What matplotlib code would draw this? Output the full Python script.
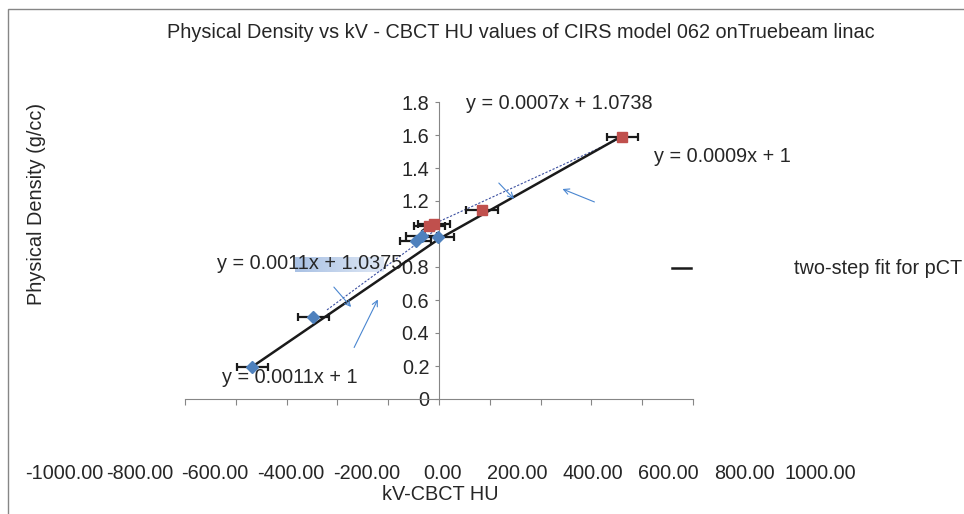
import matplotlib
matplotlib.use('Agg')
import matplotlib.pyplot as plt
import numpy as np
from matplotlib.lines import Line2D
from matplotlib.patches import Rectangle
from matplotlib.ticker import FuncFormatter

plt.rcParams['font.family'] = ['Liberation Sans', 'DejaVu Sans']

# Phantom inserts, kV-CBCT HU against physical density
blue_hu = [-735, -495, -92, -68, -3]
blue_rho = [0.196, 0.495, 0.96, 0.99, 0.98]
red_hu = [-38, -19, 170, 722]
red_rho = [1.05, 1.06, 1.145, 1.59]
hu_err = 62

# two-step fit for pCT (black polyline)
fit_hu = [-735, 0, 722]
fit_rho = [0.196, 0.97, 1.595]

# series trendlines (dotted)
blue_trend_hu = [-441, 0]
blue_trend_rho = [0.54, 1.04]
red_trend_hu = [-40, 722]
red_trend_rho = [1.047, 1.585]

ytick_vals = [0, 0.2, 0.4, 0.6, 0.8, 1.0, 1.2, 1.4, 1.6, 1.8]
xtick_vals = [-1000, -800, -600, -400, -200, 0, 200, 400, 600, 800, 1000]

W, H = 964, 514
txt = '#262626'
grey = '#868686'
arrow_c = '#4a86d0'
fs = 14.3

fig = plt.figure(figsize=(W / 100, H / 100), dpi=100)

# chart frame (runs off the right and bottom of the picture)
fig.patches.append(Rectangle((8 / W, -0.2), 2, (H - 9) / H + 0.2,
                             transform=fig.transFigure, fill=False,
                             edgecolor=grey, lw=1))

ax = fig.add_axes([185 / W, (H - 399) / H, (693 - 185) / W, (399 - 102) / H])
ax.set_xlim(-1000, 1000)
ax.set_ylim(0, 1.8)
for s in ['top', 'right']:
    ax.spines[s].set_visible(False)
ax.spines['left'].set_position(('data', 0))
ax.spines['left'].set_color(grey)
ax.spines['bottom'].set_color(grey)
ax.set_xticks(xtick_vals)
ax.tick_params(axis='x', direction='out', length=4, color=grey, labelbottom=False)
ax.set_yticks(ytick_vals)
ax.yaxis.set_major_formatter(FuncFormatter(lambda v, p: '%g' % v))
ax.tick_params(axis='y', direction='out', length=3, color=grey,
               labelsize=fs, labelcolor=txt, pad=4)

# selection highlight behind one of the equations (fades to the right)
grad = np.linspace(0, 1, 64).reshape(1, -1)
ax.imshow(grad, extent=(-567, -220, 0.77, 0.86), aspect='auto',
          cmap=matplotlib.colors.LinearSegmentedColormap.from_list(
              'hl', ['#a9c1e4', '#dfe8f5']),
          zorder=1, clip_on=False)
ax.set_xlim(-1000, 1000)
ax.set_ylim(0, 1.8)

ax.plot(blue_trend_hu, blue_trend_rho, color='#3b4fa0', lw=0.8,
        ls=(0, (2, 1.5)), zorder=2)
ax.plot(red_trend_hu, red_trend_rho, color='#3b4fa0', lw=0.8,
        ls=(0, (2, 1.5)), zorder=2)
ax.plot(fit_hu, fit_rho, color='#1a1a1a', lw=1.8, zorder=3)

ax.errorbar(blue_hu, blue_rho, xerr=hu_err, fmt='D', color='#4f81bd',
            ms=6, ecolor='#1a1a1a', elinewidth=1.6, capsize=3, capthick=1.6,
            zorder=4)
ax.errorbar(red_hu, red_rho, xerr=hu_err, fmt='s', color='#c0504d',
            ms=7, ecolor='#1a1a1a', elinewidth=1.6, capsize=3, capthick=1.6,
            zorder=4)

# arrows pointing at the fits
arrows = [((476, 1.279), (622, 1.188)), ((303, 1.2), (228, 1.321)),
          ((-339, 0.545), (-421, 0.691)), ((-236, 0.618), (-339, 0.297))]
for head, tail in arrows:
    ax.annotate('', xy=head, xytext=tail,
                arrowprops=dict(arrowstyle='->', color=arrow_c, lw=0.8))

eq_kw = dict(fontsize=fs, color=txt, va='center', ha='left', zorder=5,
             clip_on=False)
ax.text(106, 1.79, 'y = 0.0007x + 1.0738', **eq_kw)
ax.text(846, 1.467, 'y = 0.0009x + 1', **eq_kw)
ax.text(-874, 0.824, 'y = 0.0011x + 1.0375', **eq_kw)
ax.text(-854, 0.133, 'y = 0.0011x + 1', **eq_kw)

# detached tick label row
ax2 = fig.add_axes([64 / W, (H - 460) / H, (820 - 64) / W, 0.001])
ax2.set_xlim(-1000, 1000)
ax2.set_xticks(xtick_vals)
ax2.set_xticklabels(['%.2f' % v for v in xtick_vals])
ax2.set_yticks([])
for s in ax2.spines.values():
    s.set_visible(False)
ax2.patch.set_visible(False)
ax2.tick_params(axis='x', length=0, labelsize=fs, labelcolor=txt, pad=3)

fig.text(440 / W, 1 - 495 / H, 'kV-CBCT HU', ha='center', va='center',
         fontsize=fs, color=txt)
fig.text(37 / W, 1 - 204 / H, 'Physical Density (g/cc)', rotation=90,
         ha='center', va='center', fontsize=fs, color=txt)
fig.text(521 / W, 1 - 32 / H,
         'Physical Density vs kV - CBCT HU values of CIRS model 062 onTruebeam linac',
         ha='center', va='center', fontsize=fs, color=txt)

# legend
fig.lines.append(Line2D([672 / W, 691 / W], [1 - 268 / H, 1 - 268 / H],
                        transform=fig.transFigure, color='#1a1a1a', lw=1.8))
fig.text(794 / W, 1 - 268 / H, 'two-step fit for pCT', ha='left',
         va='center', fontsize=fs, color=txt)

fig.savefig('out.png', dpi=100)
